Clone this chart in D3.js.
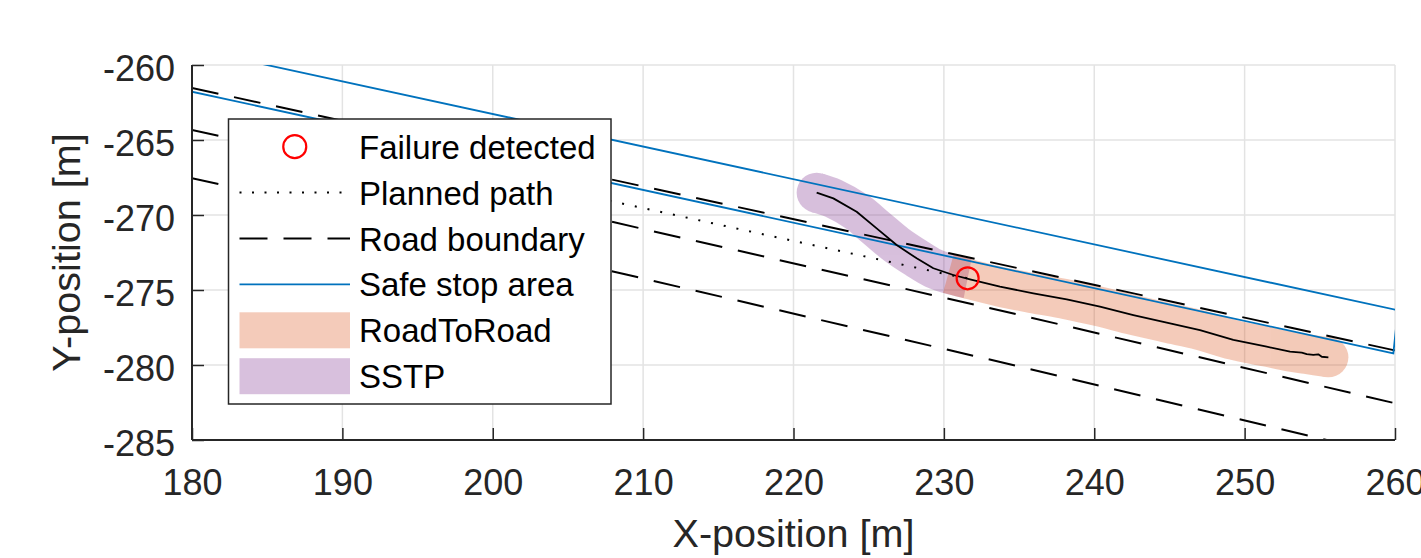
<!DOCTYPE html>
<html>
<head>
<meta charset="utf-8">
<script src="https://cdn.jsdelivr.net/npm/d3@7"></script>
<style>
  html, body { margin: 0; padding: 0; background: #fff; }
  svg { display: block; font-family: "Liberation Sans", Arial, Helvetica, sans-serif; }
</style>
</head>
<body>
<svg id="chart" width="1421" height="558"></svg>
<script>
// ---------------- DATA ----------------
const xTicks = [180, 190, 200, 210, 220, 230, 240, 250, 260];
const yTicks = [-285, -280, -275, -270, -265, -260];

// Road boundaries (dashed)
const roadAx = [180, 260];
const roadAy = [-261.53, -279.03];
const roadBx = [180, 207.91, 235.06, 260];
const roadBy = [-264.33, -270.45, -276.67, -282.55];
const roadCx = [180, 208.80, 235.06, 255.46, 262];
const roadCy = [-267.55, -273.95, -280.11, -285.0, -286.5];

// Safe stop area (closed polygon)
const safeX = [175, 260.19, 259.89, 175, 175];
const safeY = [-257.83, -276.35, -279.22, -260.69, -257.83];

// Planned path (dotted)
const plannedX = [201, 208.35, 230.41, 231.58];
const plannedY = [-267.57, -269.18, -274.0, -274.22];

// Driven trajectory
const trajX = [221.54, 222.65, 224.20, 225.53, 226.86, 228.19, 229.30, 230.63, 231.74, 233.73, 235.95, 238.17, 240.38, 242.60, 244.82, 247.03, 249.25, 251.47, 253.02, 253.80, 254.13, 254.57, 254.90, 255.13, 255.57];
const trajY = [-268.51, -268.89, -269.78, -270.89, -272.00, -272.89, -273.55, -274.00, -274.29, -274.78, -275.22, -275.62, -276.11, -276.67, -277.18, -277.67, -278.33, -278.78, -279.11, -279.18, -279.27, -279.33, -279.29, -279.45, -279.49];

// SSTP band
const sstpX = [221.54, 222.65, 224.20, 225.53, 226.86, 228.19, 229.30, 230.63, 231.58];
const sstpY = [-268.51, -268.89, -269.78, -270.89, -272.00, -272.89, -273.55, -274.00, -274.22];
// RoadToRoad band
const r2rX = [230.30, 231.74, 233.73, 235.95, 238.17, 240.38, 242.60, 244.82, 247.03, 249.25, 251.47, 253.02, 254.13, 255.57];
const r2rY = [-273.90, -274.29, -274.78, -275.22, -275.62, -276.11, -276.67, -277.18, -277.67, -278.33, -278.78, -279.11, -279.27, -279.49];

// Failure detected point
const failX = [231.58];
const failY = [-274.22];

const legendLabels = ["Failure detected", "Planned path", "Road boundary", "Safe stop area", "RoadToRoad", "SSTP"];

// ---------------- DRAW ----------------
const svg = d3.select("#chart");
const M = {left: 192, right: 1395, top: 65, bottom: 440};
const x = d3.scaleLinear().domain([180, 260]).range([M.left, M.right]);
const y = d3.scaleLinear().domain([-285, -260]).range([M.bottom, M.top]);

const axisColor = "#262626";
const gridColor = "#e3e3e3";
const blue = "#0072BD";
const fmt = d => String(d);

svg.append("defs").append("clipPath").attr("id", "clip")
  .append("rect").attr("x", M.left).attr("y", M.top)
  .attr("width", M.right - M.left).attr("height", M.bottom - M.top);

// grid
const grid = svg.append("g");
grid.selectAll("line.gx").data(xTicks).join("line")
  .attr("x1", d => x(d)).attr("x2", d => x(d))
  .attr("y1", M.top).attr("y2", M.bottom)
  .attr("stroke", gridColor).attr("stroke-width", 1.5);
grid.selectAll("line.gy").data(yTicks).join("line")
  .attr("y1", d => y(d)).attr("y2", d => y(d))
  .attr("x1", M.left).attr("x2", M.right)
  .attr("stroke", gridColor).attr("stroke-width", 1.5);

const plot = svg.append("g").attr("clip-path", "url(#clip)");
const line = d3.line().x(d => x(d[0])).y(d => y(d[1]));
const smooth = d3.line().x(d => x(d[0])).y(d => y(d[1])).curve(d3.curveCatmullRom);
const zip = (a, b) => a.map((v, i) => [v, b[i]]);

// bands
const sstpG = plot.append("g").attr("opacity", 0.3);
sstpG.append("path").attr("d", smooth(zip(sstpX, sstpY)))
  .attr("fill", "none").attr("stroke", "#7E2F8E").attr("stroke-width", 40)
  .attr("stroke-linecap", "butt").attr("stroke-linejoin", "round");
sstpG.append("circle").attr("cx", x(sstpX[0])).attr("cy", y(sstpY[0])).attr("r", 20)
  .attr("fill", "#7E2F8E");

const r2rG = plot.append("g").attr("opacity", 0.3);
r2rG.append("path").attr("d", smooth(zip(r2rX, r2rY)))
  .attr("fill", "none").attr("stroke", "#D95319").attr("stroke-width", 40)
  .attr("stroke-linecap", "butt").attr("stroke-linejoin", "round");
r2rG.append("circle").attr("cx", x(r2rX[r2rX.length - 1])).attr("cy", y(r2rY[r2rY.length - 1])).attr("r", 20)
  .attr("fill", "#D95319");

// road boundaries
[[roadAx, roadAy], [roadBx, roadBy], [roadCx, roadCy]].forEach(([xs, ys]) => {
  plot.append("path").attr("d", line(zip(xs, ys)))
    .attr("fill", "none").attr("stroke", "#000").attr("stroke-width", 2)
    .attr("stroke-dasharray", "27,16");
});

// safe stop area
plot.append("path").attr("d", line(zip(safeX, safeY)))
  .attr("fill", "none").attr("stroke", blue).attr("stroke-width", 1.8);

// planned path
plot.append("path").attr("d", line(zip(plannedX, plannedY)))
  .attr("fill", "none").attr("stroke", "#000").attr("stroke-width", 2)
  .attr("stroke-dasharray", "2,11");

// trajectory
plot.append("path").attr("d", line(zip(trajX, trajY)))
  .attr("fill", "none").attr("stroke", "#000").attr("stroke-width", 1.8)
  .attr("stroke-linejoin", "round");

// failure marker
plot.selectAll("circle.fail").data(zip(failX, failY)).join("circle")
  .attr("cx", d => x(d[0])).attr("cy", d => y(d[1])).attr("r", 11)
  .attr("fill", "none").attr("stroke", "#ff0000").attr("stroke-width", 2.2);

// axes
const xAxis = d3.axisBottom(x).tickValues(xTicks).tickSize(-12).tickPadding(29).tickFormat(fmt);
const gx = svg.append("g").attr("transform", `translate(0,${M.bottom})`).call(xAxis);
gx.select(".domain").attr("stroke", axisColor).attr("stroke-width", 2).attr("d", `M${M.left},0H${M.right}`);
gx.selectAll(".tick line").attr("stroke", axisColor).attr("stroke-width", 1.5);
gx.selectAll(".tick text").attr("fill", axisColor).attr("font-size", 36).attr("font-family", "Liberation Sans, Arial, sans-serif");

const yAxis = d3.axisLeft(y).tickValues(yTicks).tickSize(-12).tickPadding(17).tickFormat(fmt);
const gy = svg.append("g").attr("transform", `translate(${M.left},0)`).call(yAxis);
gy.select(".domain").attr("stroke", axisColor).attr("stroke-width", 2).attr("d", `M0,${M.bottom}V${M.top}`);
gy.selectAll(".tick line").attr("stroke", axisColor).attr("stroke-width", 1.5);
gy.selectAll(".tick text").attr("fill", axisColor).attr("font-size", 36).attr("dy", "15px")
  .attr("font-family", "Liberation Sans, Arial, sans-serif");

// axis labels
svg.append("text").attr("x", (M.left + M.right) / 2).attr("y", 547)
  .attr("text-anchor", "middle").attr("font-size", 39.6).attr("fill", axisColor)
  .text("X-position [m]");
svg.append("text").attr("transform", `translate(80,${(M.top + M.bottom) / 2}) rotate(-90)`)
  .attr("text-anchor", "middle").attr("font-size", 39.6).attr("fill", axisColor)
  .text("Y-position [m]");

// legend
const lg = svg.append("g");
lg.append("rect").attr("x", 228.5).attr("y", 119).attr("width", 382.5).attr("height", 285)
  .attr("fill", "#fff").attr("stroke", axisColor).attr("stroke-width", 1.5);
const rowY = d => 146.7 + d * 45.9;
const sx0 = 239.5, sx1 = 350, tx = 359;
lg.append("circle").attr("cx", (sx0 + sx1) / 2).attr("cy", rowY(0)).attr("r", 11.5)
  .attr("fill", "none").attr("stroke", "#ff0000").attr("stroke-width", 2.2);
lg.append("line").attr("x1", sx0).attr("x2", sx1).attr("y1", rowY(1)).attr("y2", rowY(1))
  .attr("stroke", "#000").attr("stroke-width", 2).attr("stroke-dasharray", "2,10.5");
lg.append("line").attr("x1", sx0).attr("x2", sx1).attr("y1", rowY(2)).attr("y2", rowY(2))
  .attr("stroke", "#000").attr("stroke-width", 2).attr("stroke-dasharray", "28,16");
lg.append("line").attr("x1", sx0).attr("x2", sx1).attr("y1", rowY(3)).attr("y2", rowY(3))
  .attr("stroke", blue).attr("stroke-width", 1.8);
lg.append("rect").attr("x", sx0).attr("y", rowY(4) - 18).attr("width", sx1 - sx0).attr("height", 36)
  .attr("fill", "#D95319").attr("opacity", 0.3);
lg.append("rect").attr("x", sx0).attr("y", rowY(5) - 18).attr("width", sx1 - sx0).attr("height", 36)
  .attr("fill", "#7E2F8E").attr("opacity", 0.3);
lg.selectAll("text.lab").data(legendLabels).join("text")
  .attr("x", tx).attr("y", (d, i) => rowY(i) + 12)
  .attr("font-size", 33).attr("fill", "#000").text(d => d);
</script>
</body>
</html>
